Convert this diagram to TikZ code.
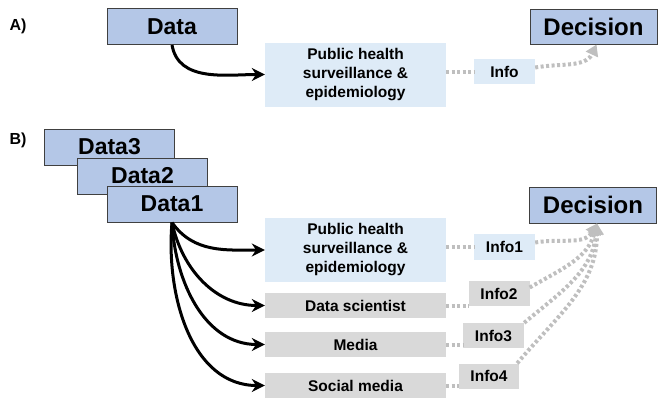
\documentclass[tikz,border=0pt]{standalone}
\usepackage{fontspec}
\setmainfont{Liberation Sans}
\usetikzlibrary{arrows.meta}
\definecolor{dblue}{HTML}{B4C7E7}
\definecolor{lblue}{HTML}{DEEBF7}
\definecolor{lgray}{HTML}{D9D9D9}
\definecolor{dotc}{HTML}{BFBFBF}
\definecolor{edge}{HTML}{404040}
\tikzset{
  bigbox/.style={draw=edge, line width=1pt, fill=dblue, inner sep=0pt, minimum width=130pt, minimum height=36pt, font=\fontsize{23}{25}\selectfont\bfseries},
  decbox/.style={bigbox, minimum width=127pt, font=\fontsize{24}{26}\selectfont\bfseries},
  phsbox/.style={fill=lblue, inner sep=0pt, minimum width=181pt, minimum height=64pt, align=center, font=\fontsize{15.5}{19}\selectfont\bfseries},
  graybox/.style={fill=lgray, inner sep=0pt, minimum width=181pt, minimum height=25pt, font=\fontsize{15.5}{18}\selectfont\bfseries},
  infobox/.style={inner sep=0pt, minimum width=61pt, minimum height=26pt, font=\fontsize{15.5}{18}\selectfont\bfseries},
  flow/.style={line width=3pt, -{Stealth[length=13pt,width=13pt]}},
  dotl/.style={dotc, line width=4pt, dash pattern=on 3pt off 2.5pt},
  dota/.style={dotl, -{Triangle[length=11pt,width=13pt]}},
  lab/.style={font=\fontsize{16}{18}\selectfont\bfseries}
}
\begin{document}
\begin{tikzpicture}[x=1pt,y=1pt]
\useasboundingbox (0,0) rectangle (659,-399);
% Panel A
\node[lab] (la) at (18,-26) {A)};
\node[bigbox] (dataA) at (172,-26.5) {Data};
\node[phsbox] (phsA) at (355.5,-74.5) {Public health\\surveillance \&\\epidemiology};
\node[infobox, fill=lblue, minimum height=25pt] (infoA) at (504.5,-71.5) {Info};
\node[decbox, minimum height=35pt] (decA) at (593.5,-26.5) {Decision};
\draw[flow] (dataA.south) to[out=-80,in=180] (phsA.west);
\draw[dotl] (phsA.east |- infoA.west) -- (infoA.west);
\draw[dota] ([yshift=4pt]infoA.east) to[out=10,in=-115] ([xshift=3pt]decA.south);
% Panel B
\node[lab] (lb) at (18,-140) {B)};
\node[bigbox] (d3) at (109.5,-147) {Data3};
\node[bigbox] (d2) at (142.5,-176) {Data2};
\node[bigbox] (d1) at (172,-204) {Data1};
\node[decbox] (decB) at (593,-205) {Decision};
\node[phsbox] (phsB) at (355.5,-250) {Public health\\surveillance \&\\epidemiology};
\node[graybox] (ds) at (355.5,-305.5) {Data scientist};
\node[graybox] (media) at (355.5,-344.5) {Media};
\node[graybox] (social) at (355.5,-385.5) {Social media};
\node[infobox, fill=lblue] (i1) at (504.5,-246.5) {Info1};
\node[infobox, fill=lgray, minimum height=25pt] (i2) at (499,-293.5) {Info2};
\node[infobox, fill=lgray, minimum height=25pt] (i3) at (493.5,-335.5) {Info3};
\node[infobox, fill=lgray, minimum height=25pt, minimum width=60pt] (i4) at (489,-376) {Info4};
\coordinate (dtip) at ([xshift=4pt]decB.south);
\draw[flow] (d1.south) to[out=-55,in=180] (phsB.west);
\draw[flow] (d1.south) to[out=-78,in=180] (ds.west);
\draw[flow] (d1.south) to[out=-87,in=180] (media.west);
\draw[flow] (d1.south) to[out=-95,in=180] (social.west);
\draw[dotl] (phsB.east |- i1.west) -- (i1.west);
\draw[dotl] (ds.east) -- (ds.east -| i2.west);
\draw[dotl] (media.east) -- (media.east -| i3.west);
\draw[dotl] (social.east) -- (social.east -| i4.west);
\draw[dota] ([yshift=4pt]i1.east) to[out=10,in=-120] (dtip);
\draw[dota] ([yshift=6pt]i2.east) to[out=30,in=-105] (dtip);
\draw[dota] (i3.north east) to[out=40,in=-95] (dtip);
\draw[dota] ([xshift=-2pt]i4.north east) to[out=50,in=-90] (dtip);
\end{tikzpicture}
\end{document}
